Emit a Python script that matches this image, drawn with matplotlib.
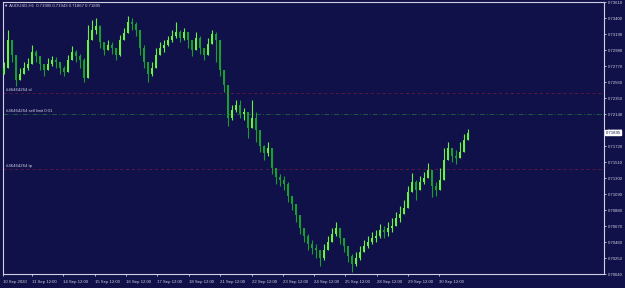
import numpy as np
import matplotlib
matplotlib.use('Agg')
import matplotlib.pyplot as plt

plt.rcParams['font.family'] = ['Liberation Sans', 'DejaVu Sans']

# AUDUSD H1 (condensed)
closes = [0.7274, 0.7311, 0.7291, 0.7259, 0.7266, 0.7274, 0.7280, 0.7295, 0.7290, 0.7280,
          0.7272, 0.7280, 0.7285, 0.7282, 0.7274, 0.7269, 0.7285, 0.7295, 0.7290, 0.7285,
          0.7261, 0.7311, 0.7324, 0.7329, 0.7308, 0.7298, 0.7304, 0.7301, 0.7291, 0.7311,
          0.7320, 0.7335, 0.7332, 0.7324, 0.7301, 0.7282, 0.7266, 0.7274, 0.7291, 0.7301,
          0.7304, 0.7311, 0.7316, 0.7322, 0.7314, 0.7322, 0.7311, 0.7298, 0.7314, 0.7301,
          0.7291, 0.7306, 0.7319, 0.7311, 0.7272, 0.7252, 0.7209, 0.7219, 0.7226, 0.7214,
          0.7217, 0.7196, 0.7209, 0.7193, 0.7172, 0.7163, 0.7169, 0.7143, 0.7131, 0.7127,
          0.7122, 0.7106, 0.7096, 0.7081, 0.7064, 0.7054, 0.7043, 0.7038, 0.7036, 0.7025,
          0.7036, 0.7046, 0.7057, 0.7064, 0.7051, 0.7041, 0.7028, 0.7017, 0.7025, 0.7033,
          0.7041, 0.7046, 0.7051, 0.7054, 0.7062, 0.7059, 0.7064, 0.7067, 0.7078, 0.7083,
          0.7091, 0.7112, 0.7125, 0.7114, 0.7125, 0.7130, 0.7140, 0.7120, 0.7114, 0.7127,
          0.7154, 0.7169, 0.7159, 0.7156, 0.7164, 0.7180, 0.71895]
highs = [0.7282, 0.7324, 0.7301, 0.7272, 0.7274, 0.7282, 0.7287, 0.7304, 0.7298, 0.7287,
         0.7280, 0.7287, 0.7290, 0.7289, 0.7282, 0.7277, 0.7291, 0.7303, 0.7298, 0.7293,
         0.7287, 0.7331, 0.7337, 0.7340, 0.7331, 0.7308, 0.7311, 0.7308, 0.7301, 0.7318,
         0.7327, 0.7343, 0.7340, 0.7335, 0.7324, 0.7304, 0.7282, 0.7282, 0.7301, 0.7308,
         0.7311, 0.7316, 0.7324, 0.7335, 0.7324, 0.7327, 0.7322, 0.7311, 0.7322, 0.7316,
         0.7301, 0.7314, 0.7324, 0.7322, 0.7287, 0.7265, 0.7245, 0.7226, 0.7232, 0.7232,
         0.7222, 0.7213, 0.7232, 0.7217, 0.7186, 0.7173, 0.7177, 0.7169, 0.7143, 0.7135,
         0.7133, 0.7125, 0.7106, 0.7095, 0.7081, 0.7064, 0.7057, 0.7049, 0.7043, 0.7036,
         0.7043, 0.7054, 0.7064, 0.7072, 0.7064, 0.7051, 0.7041, 0.7030, 0.7033, 0.7041,
         0.7049, 0.7054, 0.7059, 0.7062, 0.7070, 0.7067, 0.7072, 0.7078, 0.7085, 0.7093,
         0.7101, 0.7120, 0.7137, 0.7127, 0.7133, 0.7138, 0.7150, 0.7138, 0.7125, 0.7143,
         0.7169, 0.7177, 0.7169, 0.7167, 0.7177, 0.7188, 0.71943]
lows = [0.7266, 0.7298, 0.7282, 0.7251, 0.7259, 0.7266, 0.7272, 0.7285, 0.7282, 0.7272,
        0.7264, 0.7272, 0.7277, 0.7274, 0.7266, 0.7264, 0.7272, 0.7287, 0.7282, 0.7274,
        0.7256, 0.7285, 0.7311, 0.7319, 0.7301, 0.7291, 0.7298, 0.7293, 0.7285, 0.7290,
        0.7311, 0.7324, 0.7324, 0.7316, 0.7291, 0.7274, 0.7256, 0.7264, 0.7280, 0.7291,
        0.7295, 0.7303, 0.7308, 0.7314, 0.7308, 0.7311, 0.7301, 0.7290, 0.7301, 0.7293,
        0.7285, 0.7295, 0.7308, 0.7282, 0.7264, 0.7243, 0.7198, 0.7206, 0.7217, 0.7209,
        0.7206, 0.7182, 0.7201, 0.7177, 0.7164, 0.7154, 0.7159, 0.7135, 0.7122, 0.7120,
        0.7114, 0.7098, 0.7088, 0.7072, 0.7057, 0.7046, 0.7036, 0.7030, 0.7025, 0.7015,
        0.7022, 0.7036, 0.7049, 0.7054, 0.7043, 0.7033, 0.7020, 0.7007, 0.7015, 0.7022,
        0.7033, 0.7038, 0.7043, 0.7046, 0.7051, 0.7051, 0.7054, 0.7059, 0.7067, 0.7072,
        0.7083, 0.7096, 0.7117, 0.7101, 0.7117, 0.7122, 0.7130, 0.7105, 0.7106, 0.7114,
        0.7138, 0.7159, 0.7151, 0.7148, 0.7156, 0.7172, 0.71867]
first_open = 0.7266

# order levels
sl_price = 0.72415
limit_price = 0.72140
tp_price = 0.71418
order_id = '#46464264'

header = '\u25bc AUDUSD,H1  0.71905 0.71943 0.71867 0.71895'
last_price = 0.71895

x_tick_pos = [-0.25, 7.0, 14.75, 22.75, 30.5, 38.25, 46.25, 54.0, 62.0, 69.75,
              77.5, 85.25, 93.25, 101.0, 108.75]
x_tick_labels = ['10 Sep 2020', '11 Sep 12:00', '14 Sep 12:00', '15 Sep 12:00',
                 '16 Sep 12:00', '17 Sep 12:00', '18 Sep 12:00', '21 Sep 12:00',
                 '22 Sep 12:00', '23 Sep 12:00', '24 Sep 12:00', '25 Sep 12:00',
                 '28 Sep 12:00', '29 Sep 12:00', '30 Sep 12:00']
y_ticks = [0.70040, 0.70250, 0.70460, 0.70670, 0.70880, 0.71090, 0.71300, 0.71510,
           0.71720, 0.71930, 0.72140, 0.72350, 0.72560, 0.72770, 0.72980, 0.73190,
           0.73400, 0.73610]

bg = '#11114a'
fg = '#d0d0e0'
up_col = '#66f23f'
dn_col = '#17a02b'
fs = 3.1

closes = np.array(closes)
opens = np.concatenate([[first_open], closes[:-1]])
hi = np.maximum(np.array(highs), np.maximum(opens, closes))
lo = np.minimum(np.array(lows), np.minimum(opens, closes))
idx = np.arange(len(closes))
is_up = closes >= opens
cols = np.where(is_up, up_col, dn_col)

fig = plt.figure(figsize=(6.25, 2.88), dpi=100, facecolor=bg)
ax = fig.add_axes([3 / 625, 1 - 274 / 288, 601 / 625, 272 / 288], facecolor=bg)

ax.vlines(idx, lo, hi, colors=cols, linewidth=0.8, zorder=3)
body_h = np.maximum(np.abs(closes - opens), 0.00003)
ax.bar(idx, body_h, bottom=np.minimum(opens, closes), width=0.7, color=cols,
       linewidth=0, zorder=4)

# order lines
ax.axhline(sl_price, color='#5e1840', linewidth=0.7, linestyle=(0, (3, 3)), zorder=2)
ax.axhline(limit_price, color='#1e5a40', linewidth=0.7, linestyle=(0, (5, 2, 1, 2)), zorder=2)
ax.axhline(tp_price, color='#5e1840', linewidth=0.7, linestyle=(0, (3, 3)), zorder=2)
for price, txt in [(sl_price, order_id + ' sl'),
                   (limit_price, order_id + ' sell limit 0.01'),
                   (tp_price, order_id + ' tp')]:
    ax.text(0.4, price + 0.00010, txt, color=fg, fontsize=fs, va='bottom', ha='left',
            zorder=5)

ax.set_xlim(-0.25, 150)
ax.set_ylim(0.70040, 0.73610)

ax.set_xticks(x_tick_pos)
ax.set_xticklabels(x_tick_labels, ha='left')
ax.set_yticks(y_ticks)
ax.set_yticklabels(['%.5f' % v for v in y_ticks])
ax.yaxis.tick_right()
ax.tick_params(axis='both', colors=fg, labelsize=fs, length=1.5, width=0.6, pad=1.2)
ax.tick_params(axis='x', pad=3)
for s in ax.spines.values():
    s.set_color(fg)
    s.set_linewidth(0.8)

ax.text(0.002, 0.995, header, transform=ax.transAxes, color=fg, fontsize=fs,
        va='top', ha='left', zorder=6)

ax.text(1.003, last_price, '%.5f' % last_price, transform=ax.get_yaxis_transform(),
        color='#11114a', fontsize=fs, va='center', ha='left', zorder=7,
        bbox=dict(boxstyle='square,pad=0.12', facecolor='white', edgecolor='white'),
        clip_on=False)

fig.savefig('out.png', dpi=100, facecolor=bg)
